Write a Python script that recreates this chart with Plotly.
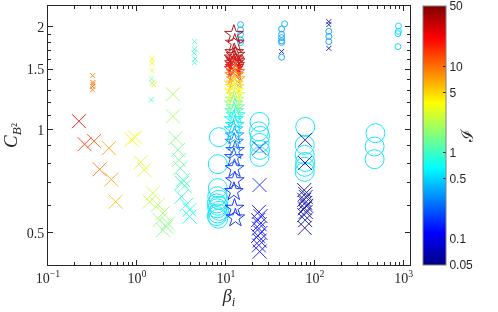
import numpy as np
import plotly.graph_objects as go

# ---- data (beta_i, C_B^2, colour value I) ----
bigx_beta = [0.223, 0.258, 0.329, 0.484, 0.381, 0.515, 0.577, 0.872, 0.955, 1.10, 1.21,
             2.54, 2.54, 2.72, 2.89, 2.97, 3.07, 3.29, 3.43, 3.16, 3.59, 3.91, 3.91, 3.20,
             1.51, 1.39, 1.72, 1.96, 1.80, 2.14, 1.96, 2.23,
             23.9, 23.9, 23.5, 24.5, 23.0, 24.0, 23.5, 24.5, 23.0, 24.0, 23.5, 24.0,
             77.6, 77.6, 76.0, 78.0, 79.0, 76.0, 78.0, 80.0, 77.0, 79.0, 76.0, 78.0, 77.0]
bigx_c = [1.06, 0.908, 0.927, 0.884, 0.767, 0.716, 0.617, 0.937, 0.951, 0.804, 0.764,
          1.27, 1.095, 0.946, 0.874, 0.817, 0.773, 0.714, 0.686, 0.638, 0.604, 0.584, 0.558, 0.70,
          0.653, 0.617, 0.604, 0.571, 0.545, 0.521, 0.510, 0.533,
          0.885, 0.690, 0.576, 0.560, 0.545, 0.530, 0.515, 0.500, 0.490, 0.475, 0.460, 0.441,
          0.935, 0.800, 0.667, 0.650, 0.637, 0.625, 0.612, 0.600, 0.590, 0.576, 0.564, 0.545, 0.517]
bigx_I = [25, 15, 12, 7, 10, 7, 6, 4, 4, 3, 3,
          2.0, 2.0, 1.6, 1.4, 1.3, 1.2, 1.1, 1.0, 0.9, 0.8, 0.75, 0.7, 1.0,
          2.6, 2.5, 2.2, 2.0, 1.8, 1.6, 1.6, 1.5,
          0.15, 0.15, 0.12, 0.12, 0.12, 0.12, 0.12, 0.12, 0.12, 0.12, 0.12, 0.12,
          0.07, 0.07, 0.06, 0.06, 0.06, 0.06, 0.06, 0.06, 0.06, 0.06, 0.06, 0.06, 0.06]

smallx_beta = [0.317, 0.320, 0.317, 0.317, 0.320,
               1.48, 1.48, 1.48, 1.46, 1.48, 1.55, 1.45,
               4.45, 4.45, 4.40, 4.50, 4.45,
               42.3, 143.6, 143.6, 143.6]
smallx_c = [1.44, 1.375, 1.34, 1.31, 1.36,
            1.61, 1.566, 1.49, 1.41, 1.37, 1.354, 1.224,
            1.81, 1.72, 1.675, 1.61, 1.57,
            1.694, 2.07, 2.03, 1.73]
smallx_I = [9, 10, 12, 9, 8,
            4, 3.5, 3, 1.5, 1.5, 4, 1.0,
            1.0, 0.9, 1.0, 0.9, 1.1,
            0.1, 0.07, 0.07, 0.07]

smallo_beta = [14.6, 14.6, 14.6, 14.6, 14.6,
               45.7, 42.3, 42.3, 42.3, 42.3, 42.3, 42.3,
               143.6, 143.6, 143.6,
               871, 871, 860, 860]
smallo_c = [2.03, 1.96, 1.90, 1.83, 1.80,
            2.04, 1.97, 1.90, 1.86, 1.82, 1.80, 1.63,
            1.94, 1.875, 1.81,
            2.01, 1.94, 1.91, 1.75]
smallo_I = [0.4, 0.4, 0.4, 0.4, 0.4,
            0.4, 0.35, 0.35, 0.35, 0.35, 0.35, 0.35,
            0.35, 0.35, 0.35,
            0.5, 0.5, 0.5, 0.5]

bigo_beta = [8.34, 8.1, 8.1, 8.0, 8.3, 7.9, 8.2, 8.0, 8.4, 8.1, 7.9, 8.2,
             23.9, 23.5, 24.2, 23.9, 24.2, 23.9,
             78.0, 77.0, 77.0, 78.0, 77.0, 77.0,
             480, 470, 470]
bigo_c = [0.952, 0.794, 0.676, 0.640, 0.625, 0.610, 0.600, 0.590, 0.580, 0.570, 0.560, 0.550,
          1.055, 0.990, 0.960, 0.916, 0.874, 0.834,
          1.020, 0.904, 0.845, 0.806, 0.780, 0.754,
          0.978, 0.894, 0.821]
bigo_I = [0.55] * 12 + [0.55] * 6 + [0.55] * 6 + [0.55] * 3

star_beta = [12.3, 12.6, 12.4, 12.8, 12.2, 12.6, 12.9, 12.3, 12.7, 12.5, 12.2, 12.8,
             12.4, 12.9, 12.3, 12.6, 12.4, 12.8, 12.5, 12.2, 12.7, 12.4, 12.9, 12.3,
             12.6, 12.2, 12.5, 12.4, 12.7, 12.3, 12.5, 12.6, 12.3, 12.5, 12.8]
star_c = [1.90, 1.79, 1.68, 1.65, 1.62, 1.60, 1.58, 1.56, 1.54, 1.52, 1.50, 1.47,
          1.44, 1.40, 1.36, 1.33, 1.29, 1.26, 1.22, 1.19, 1.16, 1.13, 1.10, 1.07,
          1.03, 1.00, 0.96, 0.92, 0.87, 0.83, 0.77, 0.71, 0.66, 0.59, 0.553]
star_I = [40, 30, 38, 36, 35, 33, 32, 30, 28, 25, 18, 12,
          9, 7, 5.5, 4.5, 3.5, 2.8, 2.2, 1.7, 1.3, 1.0, 0.8, 0.65,
          0.55, 0.45, 0.35, 0.28, 0.22, 0.19, 0.17, 0.16, 0.15, 0.15, 0.16]

cbar_vals = [0.05, 0.1, 0.5, 1, 5, 10, 50]
xtick_vals = [0.1, 1, 10, 100, 1000]
xtick_text = ["10<sup>−1</sup>", "10<sup>0</sup>", "10<sup>1</sup>", "10<sup>2</sup>", "10<sup>3</sup>"]
ytick_vals = [0.5, 1, 1.5, 2]

jet = [[0, "rgb(0,0,132)"], [0.125, "rgb(0,0,255)"], [0.375, "rgb(0,255,255)"],
       [0.625, "rgb(255,255,0)"], [0.875, "rgb(255,0,0)"], [1, "rgb(128,0,0)"]]

fig = go.Figure()

def add(beta, c, I, symbol, size, lw, op):
    fig.add_trace(go.Scatter(
        x=beta, y=c, mode="markers", showlegend=False, opacity=op,
        marker=dict(symbol=symbol, size=size, color=np.log10(I), coloraxis="coloraxis",
                    line=dict(width=lw))))

add(bigo_beta, bigo_c, bigo_I, "circle-open", 19, 1, 0.9)
add(smallo_beta, smallo_c, smallo_I, "circle-open", 6, 1, 0.9)
add(bigx_beta, bigx_c, bigx_I, "x-thin-open", 14, 1, 0.85)
add(smallx_beta, smallx_c, smallx_I, "x-thin-open", 5, 1, 0.85)
add(star_beta, star_c, star_I, "star-open", 14, 1, 0.9)

minor_y = [0.4, 0.6, 0.7, 0.8, 0.9, 1.1, 1.2, 1.3, 1.4, 1.6, 1.7, 1.8, 1.9]
minor_x = [m * d for d in [0.1, 1, 10, 100] for m in range(2, 10)]

axis_common = dict(showgrid=False, zeroline=False, showline=True, linecolor="#262626",
                   linewidth=1, mirror="ticks", ticks="inside", ticklen=5,
                   tickcolor="#262626", tickfont=dict(family="Liberation Serif", size=14, color="#262626"))

cb_ticks = [round(float(v), 6) for v in np.log10(cbar_vals)]

fig.update_layout(
    width=498, height=312,
    margin=dict(l=48, r=88, t=6, b=47, autoexpand=False),
    plot_bgcolor="white", paper_bgcolor="white",
    xaxis=dict(type="log", range=[-1, 3.07], tickvals=xtick_vals, ticktext=xtick_text,
               minor=dict(tickvals=minor_x, ticks="inside", ticklen=3, tickcolor="#262626"),
               title=dict(text="<i>β</i><sub><i>i</i></sub>", standoff=2,
                          font=dict(family="Liberation Serif", size=18, color="#262626")),
               automargin=False, **axis_common),
    yaxis=dict(type="log", range=[np.log10(0.403), np.log10(2.3)], tickvals=ytick_vals,
               ticktext=["0.5", "1", "1.5", "2"],
               minor=dict(tickvals=minor_y, ticks="inside", ticklen=3, tickcolor="#262626"),
               title=dict(text="<i>C</i><sub><i>B</i>²</sub>", standoff=8,
                          font=dict(family="Liberation Serif", size=19, color="#262626")),
               automargin=False, **axis_common),
    coloraxis=dict(colorscale=jet, cmin=np.log10(0.0499), cmax=np.log10(50.05),
                   colorbar=dict(x=1.036, xanchor="left", xpad=0, y=0.5, yanchor="middle",
                                 len=1.0, lenmode="fraction", ypad=0, thickness=23,
                                 outlinecolor="#808080", outlinewidth=1,
                                 tickvals=cb_ticks,
                                 ticktext=[str(v) for v in cbar_vals],
                                 ticks="inside", ticklen=3, tickcolor="#262626",
                                 ticklabeloverflow="allow",
                                 tickfont=dict(family="Liberation Sans", size=12, color="#262626"),
                                 title=dict(text="ℐ", side="right",
                                            font=dict(family="DejaVu Serif", size=17, color="#262626")))),
)

fig.write_html("out.html", config={"displayModeBar": False},
               post_script="document.body.style.margin='0';document.body.style.overflow='hidden';")
